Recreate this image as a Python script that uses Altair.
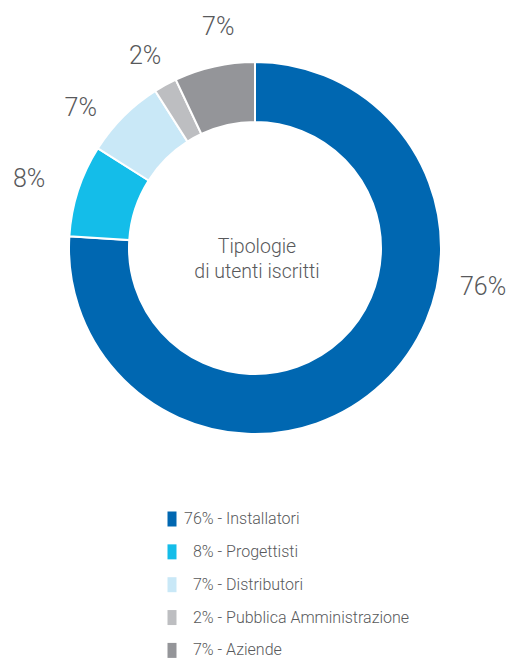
import altair as alt
import pandas as pd

categories = ["Installatori", "Progettisti", "Distributori", "Pubblica Amministrazione", "Aziende"]
percent = [76, 8, 7, 2, 7]
colors = ["#0067b1", "#14bde9", "#c9e8f7", "#bdbec1", "#949599"]
center_lines = ["Tipologie", "di utenti iscritti"]

FONT = "Roboto"
TC = "#58595b"
# zero-width space keeps the figure space from being trimmed, aligning single digits
PAD = "\u200b\u2007"

legend_labels = [f"{'' if p >= 10 else PAD}{p}% - {c}" for p, c in zip(percent, categories)]
pct_labels = [f"{p}%" for p in percent]

df = pd.DataFrame({
    "idx": list(range(len(categories))),
    "category": categories,
    "value": percent,
    "legend": legend_labels,
    "pct": pct_labels,
})

# text nudges (style offsets) for each outer label, in slice order
label_nudge = [(72, -127), (-9, 1), (-13, 21), (0, 8), (13, 2)]

base = alt.Chart(df).encode(
    theta=alt.Theta("value:Q", stack=True),
    order=alt.Order("idx:Q"),
)

arc = base.mark_arc(outerRadius=186, innerRadius=126, stroke="white", strokeWidth=2).encode(
    color=alt.Color(
        "legend:N",
        sort=legend_labels,
        scale=alt.Scale(domain=legend_labels, range=colors),
        legend=alt.Legend(
            title=None,
            orient="none",
            legendX=156,
            legendY=503,
            symbolType="M-0.6,-1H0.6V1H-0.6Z",
            symbolSize=225,
            symbolStrokeWidth=0,
            symbolOpacity=1,
            labelFont=FONT,
            labelFontSize=16,
            labelFontWeight=300,
            labelColor=TC,
            labelLimit=400,
            labelOffset=4,
            rowPadding=16.85,
            padding=0,
        ),
    )
)

text_layers = []
for i, (ddx, ddy) in enumerate(label_nudge):
    text_layers.append(
        base.transform_calculate(
            lab=f"datum.idx == {i} ? datum.pct : ''"
        ).mark_text(
            radius=228, fontSize=25, font=FONT, fontWeight=300, color=TC, dx=ddx, dy=ddy
        ).encode(text="lab:N")
    )

center = alt.Chart(pd.DataFrame({"k": [0]})).mark_text(
    fontSize=19.5, lineHeight=25, font=FONT, fontWeight=300, color=TC,
    align="center", baseline="middle", dx=2, dy=-1
).encode(text=alt.value(center_lines))

chart = alt.layer(arc, *text_layers, center).properties(
    width=494,
    height=480,
    padding={"left": 0, "top": 0, "right": 5, "bottom": 171},
    autosize="none",
).configure_view(stroke=None)

chart.save("out.html", embed_options={"renderer": "svg", "actions": False})
